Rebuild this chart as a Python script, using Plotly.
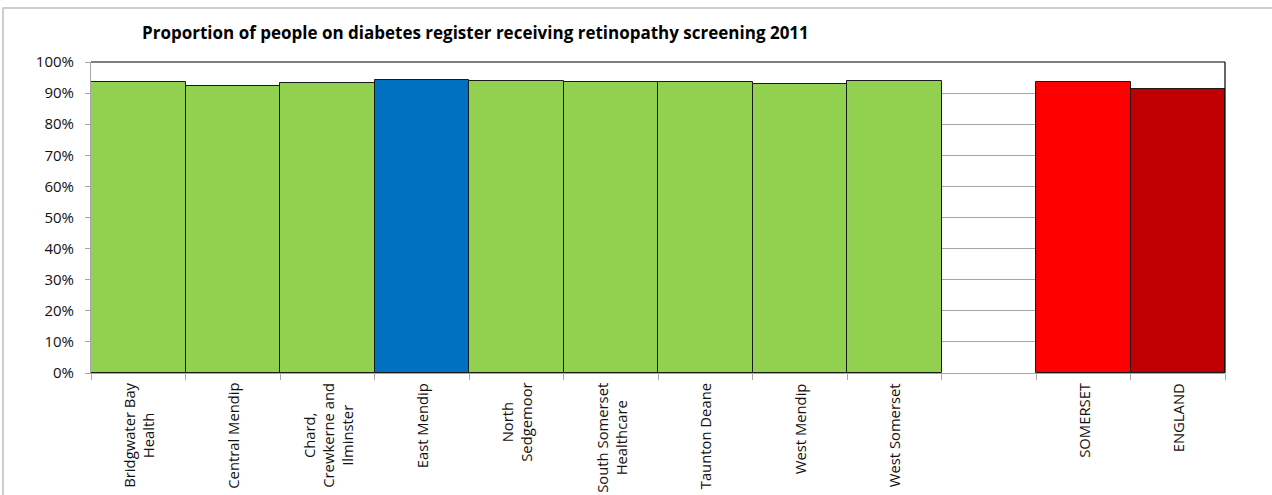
import plotly.graph_objects as go

# Practice areas and retinopathy screening uptake (proportion of diabetes register)
categories = [
    "Bridgwater Bay Health", "Central Mendip", "Chard, Crewkerne and Ilminster",
    "East Mendip", "North Sedgemoor", "South Somerset Healthcare",
    "Taunton Deane", "West Mendip", "West Somerset", " ", "SOMERSET", "ENGLAND",
]
tick_labels = [
    "Bridgwater Bay<br>Health", "Central Mendip", "Chard,<br>Crewkerne and<br>Ilminster",
    "East Mendip", "North<br>Sedgemoor", "South Somerset<br>Healthcare",
    "Taunton Deane", "West Mendip", "West Somerset", "", "SOMERSET", "ENGLAND",
]
values = [0.937, 0.924, 0.933, 0.943, 0.940, 0.936,
          0.935, 0.929, 0.940, None, 0.935, 0.914]
colors = ["#92D050", "#92D050", "#92D050", "#0070C0", "#92D050", "#92D050",
          "#92D050", "#92D050", "#92D050", "#FFFFFF", "#FF0000", "#C00000"]

FONT = "Open Sans"

fig = go.Figure(
    go.Bar(
        x=categories,
        y=values,
        marker=dict(color=colors, line=dict(color="#1a1a1a", width=1)),
        width=1,
        hoverinfo="x+y",
    )
)

# Rotated, centred category labels beneath the axis
for cat, lab in zip(categories, tick_labels):
    if not lab:
        continue
    fig.add_annotation(
        x=cat, xref="x", y=0, yref="paper", yshift=-8,
        text=lab, textangle=-90, showarrow=False,
        xanchor="center", yanchor="top", align="center",
        font=dict(family=FONT, size=14.8, color="#111111"),
    )

# Outer chart frame and plot-area border
fig.add_shape(type="rect", xref="paper", yref="paper",
              x0=-0.0776, x1=1.2, y0=-0.5, y1=1.1736,
              line=dict(color="#BFBFBF", width=1.5), fillcolor="rgba(0,0,0,0)",
              layer="below")
fig.add_shape(type="line", xref="paper", yref="paper",
              x0=0, x1=1, y0=1, y1=1, line=dict(color="#000000", width=1.2))
fig.add_shape(type="line", xref="paper", yref="paper",
              x0=1, x1=1, y0=0, y1=1, line=dict(color="#000000", width=1.2))

fig.update_layout(
    width=1272, height=495,
    margin=dict(l=91, r=47, t=62, b=122),
    paper_bgcolor="white", plot_bgcolor="white",
    bargap=0, showlegend=False,
    title=dict(
        text="<b>Proportion of people on diabetes register receiving retinopathy screening 2011</b>",
        x=0.339, xref="paper", xanchor="center",
        y=1 - 33 / 495, yref="container", yanchor="middle",
        font=dict(family=FONT, size=17, color="#000000"),
    ),
    font=dict(family=FONT),
)

fig.update_xaxes(
    type="category", categoryorder="array", categoryarray=categories,
    showticklabels=False, ticks="outside", tickson="boundaries",
    ticklen=6, tickcolor="#A6A6A6", tickwidth=1,
    showline=True, linecolor="#A6A6A6", linewidth=1,
    showgrid=False, range=[-0.5, len(categories) - 0.5],
)
fig.update_yaxes(
    range=[0, 1], dtick=0.1, tickformat=".0%",
    ticks="outside", ticklen=5, tickcolor="#A6A6A6",
    ticklabelstandoff=8,
    showline=True, linecolor="#A6A6A6", linewidth=1,
    showgrid=True, gridcolor="#A6A6A6", gridwidth=1,
    tickfont=dict(family=FONT, size=15, color="#111111"),
    zeroline=False,
)

fig.write_html("out.html")
